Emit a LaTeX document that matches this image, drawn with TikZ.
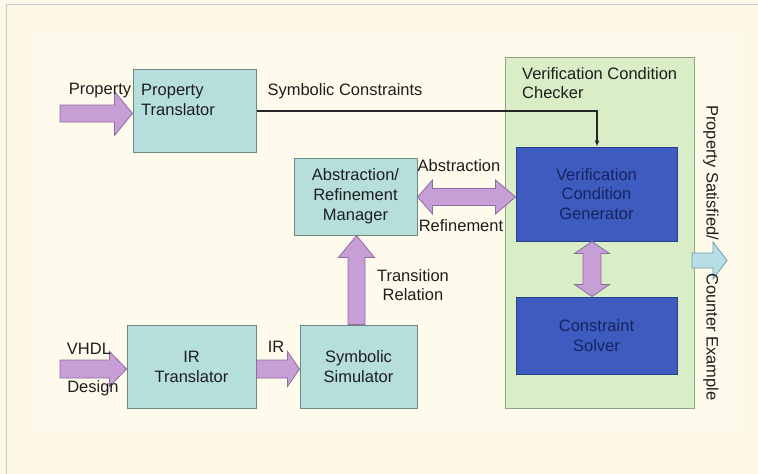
\documentclass[tikz,border=0pt]{standalone}
\usepackage{fontspec}
\setmainfont{Liberation Sans}
\usetikzlibrary{calc,arrows.meta}
\definecolor{bgout}{HTML}{FDF7E6}
\definecolor{bgin}{HTML}{FEFAEC}
\definecolor{framegrey}{HTML}{C8CCD0}
\definecolor{tealbox}{HTML}{B6DEDC}
\definecolor{tealedge}{HTML}{6B8A82}
\definecolor{greenbox}{HTML}{D9EDC6}
\definecolor{greenedge}{HTML}{8FA483}
\definecolor{bluebox}{HTML}{3E5CC0}
\definecolor{blueedge}{HTML}{2A3F8A}
\definecolor{bluetext}{HTML}{16245E}
\definecolor{purplefill}{HTML}{C79FD6}
\definecolor{purpleedge}{HTML}{8D6C9E}
\definecolor{outfill}{HTML}{B8DFE6}
\definecolor{outedge}{HTML}{6E9AAA}
\definecolor{txt}{HTML}{1E1E1E}
\tikzset{
  txtfont/.style={font=\fontsize{16.5}{19.8}\selectfont, text=txt},
  blockbox/.style={draw=tealedge, line width=1pt, fill=tealbox, inner sep=0pt, txtfont, align=center},
  bluebx/.style={draw=blueedge, line width=1pt, fill=bluebox, inner sep=0pt, font=\fontsize{16.5}{19.8}\selectfont, text=bluetext, align=center},
  lbl/.style={txtfont, inner sep=0pt, align=center},
  fatarrow/.style={fill=purplefill, draw=purpleedge, line width=0.8pt, line join=miter},
  outarrow/.style={fill=outfill, draw=outedge, line width=0.8pt, line join=miter},
}
% horizontal single block arrow: #1 start, #2 end, body half, head half, head length, style
\newcommand{\bharrow}[6]{%
  \path[#6] let \p1=(#1), \p2=(#2) in
    (\x1,\y1+#3) -- (\x2-#5,\y1+#3) -- (\x2-#5,\y1+#4) -- (\x2,\y1)
    -- (\x2-#5,\y1-#4) -- (\x2-#5,\y1-#3) -- (\x1,\y1-#3) -- cycle;}
% horizontal double block arrow: #5 left head length, #6 right head length
\newcommand{\bhdouble}[7]{%
  \path[#7] let \p1=(#1), \p2=(#2) in
    (\x1,\y1) -- (\x1+#5,\y1+#4) -- (\x1+#5,\y1+#3) -- (\x2-#6,\y1+#3) -- (\x2-#6,\y1+#4) -- (\x2,\y1)
    -- (\x2-#6,\y1-#4) -- (\x2-#6,\y1-#3) -- (\x1+#5,\y1-#3) -- (\x1+#5,\y1-#4) -- cycle;}
% vertical single block arrow pointing up: #1 bottom start, #2 top end
\newcommand{\bvup}[6]{%
  \path[#6] let \p1=(#1), \p2=(#2) in
    (\x1-#3,\y1) -- (\x1-#3,\y2-#5) -- (\x1-#4,\y2-#5) -- (\x1,\y2)
    -- (\x1+#4,\y2-#5) -- (\x1+#3,\y2-#5) -- (\x1+#3,\y1) -- cycle;}
% vertical double block arrow: #1 top, #2 bottom
\newcommand{\bvdouble}[6]{%
  \path[#6] let \p1=(#1), \p2=(#2) in
    (\x1,\y1) -- (\x1+#4,\y1-#5) -- (\x1+#3,\y1-#5) -- (\x1+#3,\y2+#5) -- (\x1+#4,\y2+#5) -- (\x1,\y2)
    -- (\x1-#4,\y2+#5) -- (\x1-#3,\y2+#5) -- (\x1-#3,\y1-#5) -- (\x1-#4,\y1-#5) -- cycle;}
\begin{document}
\begin{tikzpicture}[x=1pt,y=-1pt]
\useasboundingbox (0,0) rectangle (758,474);
\fill[bgout] (0,0) rectangle (758,474);
\fill[bgin] (33,32) rectangle (743,433);
\draw[framegrey, line width=1pt] (6,480) -- (6,4) -- (765,4);

% boxes
\node[draw=greenedge, line width=1pt, fill=greenbox, minimum width=189pt, minimum height=351pt, inner sep=0pt] (vcc) at (599.5,232.5) {};
\node[lbl, anchor=north west, align=left] (vcctitle) at (522,67) {Verification Condition\\Checker};

\node[blockbox, minimum width=123pt, minimum height=83pt] (ptr) at (194.5,110.5) {};
\node[lbl, anchor=north west, align=left] (ptrtext) at (141,84) {Property\\Translator};

\node[blockbox, minimum width=123pt, minimum height=77pt] (arm) at (355.5,196.5) {Abstraction/\\Refinement\\Manager};
\node[blockbox, minimum width=129pt, minimum height=83pt] (ir) at (191.5,366.5) {IR\\Translator};
\node[blockbox, minimum width=117pt, minimum height=83pt] (sim) at (358.5,366.5) {Symbolic\\Simulator};

\node[bluebx, minimum width=161pt, minimum height=94pt] (vcg) at (596.5,194) {Verification\\Condition\\Generator};
\node[bluebx, minimum width=161pt, minimum height=77pt] (cs) at (596.5,335.5) {Constraint\\Solver};

% coordinates
\coordinate (pin) at (60,113.5);
\coordinate (vin) at (60,369);
\coordinate (outs) at (692,260.5);
\coordinate (oute) at (727,260.5);

% block arrows
\bharrow{pin}{pin -| ptr.west}{8.5pt}{22pt}{18pt}{fatarrow}
\bharrow{vin}{vin -| ir.west}{9pt}{17.5pt}{17pt}{fatarrow}
\bharrow{ir.east |- vin}{vin -| sim.west}{9pt}{17.5pt}{12pt}{fatarrow}
\bvup{356.5,325 |- sim.north}{356.5,0 |- arm.south}{8.5pt}{18pt}{22pt}{fatarrow}
\bhdouble{arm.east |- 0,197}{vcg.west |- 0,197}{8.5pt}{17pt}{15pt}{20pt}{fatarrow}
\bvdouble{592,0 |- vcg.south}{592,0 |- cs.north}{9pt}{17.5pt}{12pt}{fatarrow}
\bharrow{outs}{oute}{7.5pt}{18.5pt}{14pt}{outarrow}

% thin connector
\draw[line width=1.2pt, black!85, -{Latex[length=6pt,width=5pt]}] (ptr.east |- 0,111) -- (597,111) -- (597,0 |- vcg.north);

% labels
\node[lbl] (lprop) at (100,91) {Property};
\node[lbl] (lsym) at (345,91) {Symbolic Constraints};
\node[lbl] (labs) at (459,166) {Abstraction};
\node[lbl] (lref) at (461,226) {Refinement};
\node[lbl] (ltr) at (413,285) {Transition\\Relation};
\node[lbl] (lvhdl) at (89,349) {VHDL};
\node[lbl] (ldes) at (93,388) {Design};
\node[lbl] (lir) at (276,347) {IR};
\node[lbl, rotate=-90, anchor=south west] (lsat) at (703,105) {Property Satisfied/};
\node[lbl, rotate=-90, anchor=south west] (lce) at (703,273) {Counter Example};
\end{tikzpicture}
\end{document}
